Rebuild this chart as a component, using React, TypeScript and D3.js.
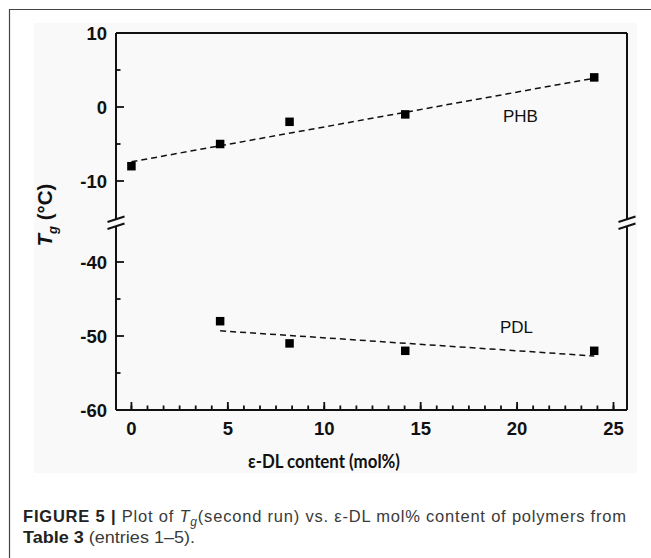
import React from "react";
import * as d3 from "d3";

// ---- data ----
const phbX = [0, 4.6, 8.2, 14.2, 24];
const phbY = [-8, -5, -2, -1, 4];
const pdlX = [4.6, 8.2, 14.2, 24];
const pdlY = [-48, -51, -52, -52];
const phbFitX = [0, 24];
const phbFitY = [-7.4, 3.9];
const pdlFitX = [4.6, 24];
const pdlFitY = [-49.3, -52.7];
const xTicks = [0, 5, 10, 15, 20, 25];
const yUpperTicks = [10, 0, -10];
const yLowerTicks = [-40, -50, -60];
const yUpperMinor = [5, -5];
const yLowerMinor = [-45, -55];

const W = 651;
const H = 558;
const L = 116, R = 627, T = 33, B = 410;
const breakTop = 219, breakBot = 226;

const x = d3.scaleLinear().domain([-0.8, 25.7]).range([L, R]);
const yU = d3.scaleLinear().domain([-15, 10]).range([218, T]);
const yL = d3.scaleLinear().domain([-60, -35]).range([B, 225]);

const xMinor = d3.range(0, 25.7, 5 / 6).filter((v) => x(v) > L + 1 && x(v) < R - 1);

const lineGen = (sx: number[], sy: number[], ys: d3.ScaleLinear<number, number>) =>
  d3.line<number>().x((_, i) => x(sx[i])).y((_, i) => ys(sy[i]))(sx) || "";

const axisFont = "'Liberation Sans', Arial, sans-serif";

function BreakMark({ cx }: { cx: number }) {
  return (
    <g stroke="#111" strokeWidth={2}>
      <line x1={cx - 8.5} y1={breakTop + 3} x2={cx + 8.5} y2={breakTop - 2.5} />
      <line x1={cx - 8.5} y1={breakBot + 3} x2={cx + 8.5} y2={breakBot - 2.5} />
    </g>
  );
}

export default function App() {
  const ms = 8.5;
  return (
    <svg
      width={W}
      height={H}
      style={{ position: "absolute", left: 0, top: 0, background: "#fff" }}
    >
      <rect x={0} y={0} width={W} height={H} fill="#fff" />
      {/* outer frame */}
      <path d={`M9.5,${H} V9.5 H${W}`} fill="none" stroke="#444" strokeWidth={1.2} />
      {/* chart background */}
      <rect x={34} y={23} width={603} height={450} fill="#f9f9f9" />

      {/* axes frame */}
      <g stroke="#111" strokeWidth={2} fill="none">
        <line x1={L} y1={T} x2={R} y2={T} />
        <line x1={L} y1={B} x2={R} y2={B} />
        <line x1={L} y1={T} x2={L} y2={breakTop} />
        <line x1={L} y1={breakBot} x2={L} y2={B} />
        <line x1={R} y1={T} x2={R} y2={breakTop} />
        <line x1={R} y1={breakBot} x2={R} y2={B} />
      </g>
      <BreakMark cx={L} />
      <BreakMark cx={R} />

      {/* ticks */}
      <g stroke="#111" strokeWidth={1.8}>
        {xTicks.map((v) => (
          <line key={"xt" + v} x1={x(v)} x2={x(v)} y1={B} y2={B - 8} />
        ))}
        {xMinor.map((v, i) => (
          <line key={"xm" + i} x1={x(v)} x2={x(v)} y1={B} y2={B - 4.5} />
        ))}
        {yUpperTicks.map((v) => (
          <line key={"yu" + v} x1={L} x2={L + 8} y1={yU(v)} y2={yU(v)} />
        ))}
        {yLowerTicks.map((v) => (
          <line key={"yl" + v} x1={L} x2={L + 8} y1={yL(v)} y2={yL(v)} />
        ))}
        {yUpperMinor.map((v) => (
          <line key={"yum" + v} x1={L} x2={L + 4.5} y1={yU(v)} y2={yU(v)} />
        ))}
        {yLowerMinor.map((v) => (
          <line key={"ylm" + v} x1={L} x2={L + 4.5} y1={yL(v)} y2={yL(v)} />
        ))}
      </g>

      {/* tick labels */}
      <g fontFamily={axisFont} fontWeight="bold" fontSize={18.5} fill="#111">
        {xTicks.map((v) => (
          <text key={"xl" + v} x={x(v)} y={435} textAnchor="middle">
            {v}
          </text>
        ))}
        {yUpperTicks.map((v) => (
          <text key={"yul" + v} x={107} y={yU(v)} dy="0.36em" textAnchor="end">
            {v}
          </text>
        ))}
        {yLowerTicks.map((v) => (
          <text key={"yll" + v} x={107} y={yL(v)} dy="0.36em" textAnchor="end">
            {v}
          </text>
        ))}
      </g>

      {/* fit lines */}
      <g fill="none" stroke="#111" strokeWidth={1.5} strokeDasharray="6,4">
        <path d={lineGen(phbFitX, phbFitY, yU)} />
        <path d={lineGen(pdlFitX, pdlFitY, yL)} />
      </g>

      {/* markers */}
      <g fill="#000">
        {phbX.map((v, i) => (
          <rect key={"p" + i} x={x(v) - ms / 2} y={yU(phbY[i]) - ms / 2} width={ms} height={ms} />
        ))}
        {pdlX.map((v, i) => (
          <rect key={"d" + i} x={x(v) - ms / 2} y={yL(pdlY[i]) - ms / 2} width={ms} height={ms} />
        ))}
      </g>

      {/* series labels */}
      <g fontFamily={axisFont} fontSize={17} fill="#111">
        <text x={503} y={122}>PHB</text>
        <text x={500} y={333}>PDL</text>
      </g>

      {/* y title */}
      <text
        transform="translate(52,215) rotate(-90)"
        textAnchor="middle"
        fontFamily={axisFont}
        fontWeight="bold"
        fontSize={20.5}
        fill="#111"
      >
        <tspan fontStyle="italic">T</tspan>
        <tspan fontStyle="italic" fontSize={13} dy={5}>g</tspan>
        <tspan dy={-5}> (°C)</tspan>
      </text>

      {/* x title */}
      <text
        x={324}
        y={468}
        textAnchor="middle"
        fontFamily="Lato, 'Open Sans', sans-serif"
        fontWeight="bold"
        fontSize={18}
        fill="#111"
        textLength={152}
        lengthAdjust="spacingAndGlyphs"
      >
        ε-DL content (mol%)
      </text>

      {/* caption */}
      <g fontFamily="'Liberation Sans', Arial, sans-serif" fontSize={16.5} fill="#3a3a3a">
        <text x={23} y={522} textLength={603} lengthAdjust="spacing">
          <tspan fontWeight="bold" fill="#222">FIGURE 5 | </tspan>
          <tspan>Plot of </tspan>
          <tspan fontStyle="italic">T</tspan>
          <tspan fontStyle="italic" fontSize={12} dy={4}>g</tspan>
          <tspan dy={-4}>(second run) vs. ε-DL mol% content of polymers from</tspan>
        </text>
        <text x={23} y={543} textLength={172} lengthAdjust="spacingAndGlyphs">
          <tspan fontWeight="bold" fill="#222">Table 3</tspan>
          <tspan> (entries 1–5).</tspan>
        </text>
      </g>
    </svg>
  );
}
